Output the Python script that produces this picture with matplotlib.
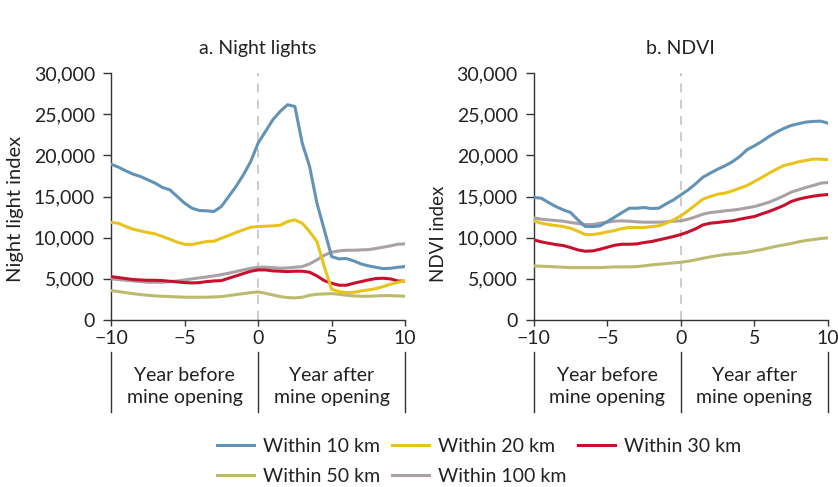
import numpy as np
import matplotlib
matplotlib.use("Agg")
import matplotlib.pyplot as plt
from matplotlib.ticker import FuncFormatter

plt.rcParams['font.family'] = ['Lato', 'DejaVu Sans']

# half-year steps from -10 to 10
years = np.arange(-10, 10.01, 0.5)

# a. Night lights
nl_10 = [18930, 18570, 18120, 17720, 17430, 17030, 16620, 16100, 15810, 15000, 14190,
         13580, 13300, 13260, 13180, 13780, 15000, 16220, 17640, 19260, 21490,
         22900, 24320, 25340, 26150, 25940, 21490, 18650, 14190, 10950, 7700,
         7420, 7460, 7180, 6810, 6570, 6400, 6240, 6280, 6400, 6490]
nl_20 = [11840, 11760, 11350, 11030, 10820, 10620, 10460, 10140, 9810, 9450, 9200,
         9160, 9360, 9530, 9570, 9930, 10260, 10620, 10950, 11270, 11350,
         11390, 11430, 11510, 11960, 12160, 11760, 10740, 9530, 6490, 3730,
         3450, 3320, 3360, 3530, 3650, 3810, 4050, 4340, 4580, 4740]
nl_30 = [5270, 5150, 5030, 4910, 4860, 4820, 4820, 4780, 4700, 4620, 4540,
         4500, 4540, 4660, 4740, 4780, 5070, 5350, 5640, 5920, 6080,
         6080, 5960, 5920, 5880, 5920, 5920, 5800, 5350, 4780, 4460,
         4220, 4220, 4460, 4660, 4860, 5030, 5070, 4990, 4740, 4700]
nl_50 = [3570, 3450, 3320, 3200, 3080, 3000, 2920, 2880, 2840, 2800, 2760,
         2760, 2760, 2760, 2800, 2840, 2960, 3080, 3200, 3320, 3410,
         3240, 3040, 2840, 2720, 2680, 2760, 3000, 3120, 3160, 3200,
         3120, 3000, 2920, 2880, 2880, 2920, 2960, 2960, 2920, 2880]
nl_100 = [4990, 4910, 4820, 4740, 4660, 4580, 4580, 4580, 4660, 4740, 4860,
          4990, 5110, 5230, 5350, 5510, 5680, 5880, 6080, 6280, 6410,
          6410, 6360, 6280, 6320, 6410, 6490, 6810, 7300, 7860, 8230,
          8390, 8470, 8470, 8510, 8550, 8680, 8840, 9000, 9200, 9240]

# b. NDVI
nd_10 = [14880, 14800, 14270, 13780, 13380, 13050, 12160, 11350, 11350, 11430, 11960,
         12490, 13050, 13580, 13580, 13660, 13540, 13580, 14110, 14590, 15200,
         15810, 16540, 17350, 17840, 18320, 18730, 19220, 19860, 20680, 21160,
         21690, 22300, 22820, 23270, 23630, 23840, 24040, 24120, 24160, 23920]
nd_20 = [12040, 11760, 11590, 11470, 11350, 11150, 10780, 10380, 10380, 10500, 10700,
         10860, 11110, 11230, 11230, 11230, 11350, 11430, 11760, 12160, 12650,
         13300, 13990, 14680, 15000, 15280, 15410, 15690, 16010, 16340, 16820,
         17310, 17840, 18320, 18770, 18970, 19220, 19380, 19540, 19540, 19460]
nd_30 = [9730, 9490, 9320, 9160, 9040, 8800, 8510, 8350, 8390, 8590, 8840,
         9080, 9200, 9200, 9240, 9410, 9530, 9730, 9930, 10140, 10380,
         10700, 11070, 11550, 11760, 11840, 11960, 12040, 12240, 12410, 12570,
         12890, 13180, 13540, 13910, 14390, 14680, 14880, 15040, 15160, 15240]
nd_50 = [6570, 6530, 6490, 6450, 6410, 6360, 6360, 6360, 6360, 6360, 6410,
         6450, 6450, 6450, 6490, 6570, 6690, 6770, 6850, 6930, 7010,
         7140, 7300, 7500, 7660, 7820, 7950, 8030, 8110, 8230, 8390,
         8550, 8760, 8960, 9120, 9280, 9490, 9650, 9770, 9890, 9970]
nd_100 = [12410, 12240, 12160, 12080, 12000, 11840, 11720, 11590, 11590, 11760, 11880,
          12000, 12040, 12000, 11920, 11880, 11880, 11880, 11920, 12000, 12040,
          12240, 12530, 12850, 13050, 13140, 13260, 13340, 13460, 13620, 13780,
          14030, 14310, 14680, 15080, 15530, 15810, 16100, 16340, 16620, 16700]

labels = ['Within 10 km', 'Within 20 km', 'Within 30 km', 'Within 50 km', 'Within 100 km']
colors = ['#6293b7', '#e8c31c', '#c8102e', '#bcbb6d', '#aaa1a6']

fs = 14
fig = plt.figure(figsize=(8.38, 4.87), dpi=100)
ax1 = fig.add_axes([0.1325, 0.343, 0.351, 0.507])
ax2 = fig.add_axes([0.637, 0.343, 0.351, 0.507])

panels = [(ax1, [nl_10, nl_20, nl_30, nl_50, nl_100], 'a. Night lights', 'Night light index', 14.5, 0.45),
          (ax2, [nd_10, nd_20, nd_30, nd_50, nd_100], 'b. NDVI', 'NDVI index', 13.5, 0.35)]

axis_col = '#333333'
txt_col = '#222222'
for ax, series, title, ylab, ylab_fs, ylab_y in panels:
    ax.axvline(0, color='#c8c8c8', lw=1.3, ls=(0, (5, 4)), zorder=1)
    for i in [4, 3, 2, 1, 0]:
        ax.plot(years, series[i], color=colors[i], lw=2.2, label=labels[i], zorder=3)
    ax.set_xlim(-10, 10)
    ax.set_ylim(0, 30000)
    ax.set_xticks([-10, -5, 0, 5, 10])
    ax.set_yticks(range(0, 30001, 5000))
    ax.yaxis.set_major_formatter(FuncFormatter(lambda v, p: f'{int(v):,}'))
    ax.xaxis.set_major_formatter(FuncFormatter(lambda v, p: f'{int(v)}'.replace('-', '\u2212')))
    for s in ['top', 'right']:
        ax.spines[s].set_visible(False)
    for s in ['left', 'bottom']:
        ax.spines[s].set_color(axis_col)
        ax.spines[s].set_linewidth(1.0)
    ax.tick_params(direction='out', width=1.0, color=axis_col,
                   labelsize=fs, labelcolor=txt_col)
    ax.tick_params(axis='y', length=5.5, pad=6)
    ax.tick_params(axis='x', length=4, pad=3)
    ax.set_ylabel(ylab, fontsize=ylab_fs, color=txt_col)
    ax.yaxis.set_label_coords(-0.295, ylab_y)
    ax.set_title(title, fontsize=fs, color=txt_col, pad=14)

    # bracket lines and labels under the x axis
    tr = ax.get_xaxis_transform()
    for xv in [-10, 0, 10]:
        ax.plot([xv, xv], [-0.13, -0.372], color=axis_col, lw=1.0,
                transform=tr, clip_on=False)
    ax.text(-5, -0.27, 'Year before\nmine opening', transform=tr, ha='center', va='center',
            fontsize=fs, color=txt_col, linespacing=1.4)
    ax.text(5, -0.27, 'Year after\nmine opening', transform=tr, ha='center', va='center',
            fontsize=fs, color=txt_col, linespacing=1.4)

handles, labs = ax1.get_legend_handles_labels()
hmap = dict(zip(labs, handles))
# column-wise fill: gives row 1 = 10/20/30 km, row 2 = 50/100 km
leg_order = ['Within 10 km', 'Within 50 km', 'Within 20 km', 'Within 100 km', 'Within 30 km']
leg = fig.legend([hmap[l] for l in leg_order], leg_order, ncol=3, loc='upper left',
                 bbox_to_anchor=(0.259, 0.1015), frameon=False, fontsize=fs,
                 handlelength=1.9, handletextpad=0.46, columnspacing=0.6,
                 labelspacing=0.7, borderaxespad=0, borderpad=0)
for t in leg.get_texts():
    t.set_color(txt_col)

fig.savefig('out.png', dpi=100)
